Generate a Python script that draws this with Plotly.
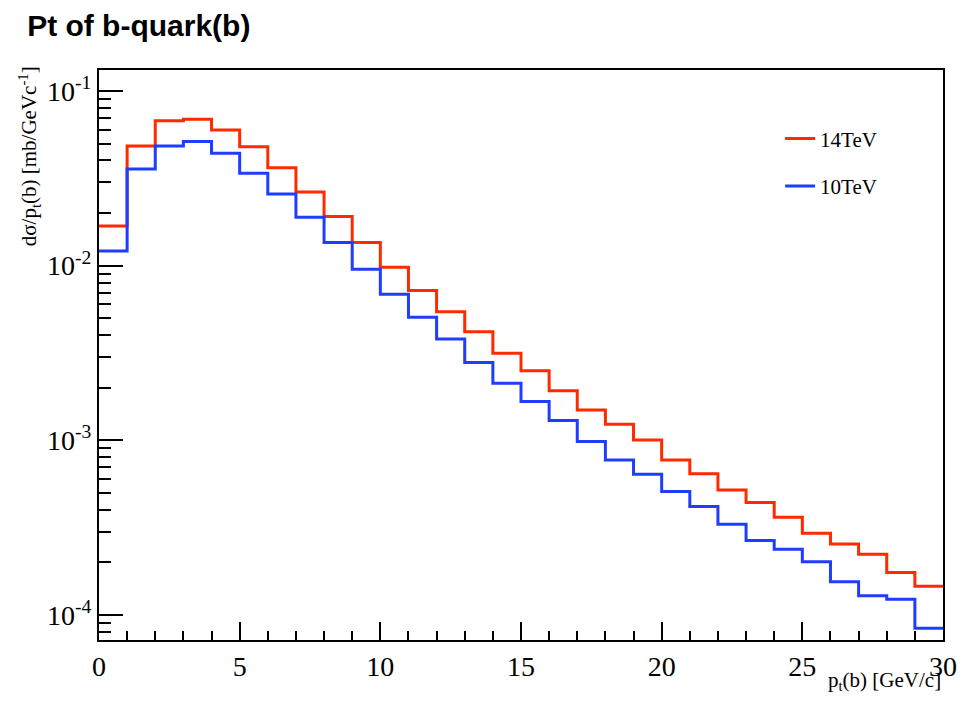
import plotly.graph_objects as go

bin_edges = list(range(0, 31))
sigma_14tev = [0.01687, 0.0484, 0.0676, 0.0689, 0.0598, 0.0480, 0.0364, 0.0264, 0.0191, 0.01356,
               0.0098, 0.0072, 0.00545, 0.00419, 0.00315, 0.00250, 0.00192, 0.00149, 0.001236, 0.001005,
               0.000772, 0.000643, 0.000520, 0.000440, 0.000363, 0.000294, 0.000255, 0.000223, 0.000175, 0.000146]
sigma_10tev = [0.01213, 0.0358, 0.0484, 0.0513, 0.0440, 0.0338, 0.0257, 0.0189, 0.01355, 0.00955,
               0.00686, 0.00507, 0.00380, 0.00279, 0.00212, 0.001666, 0.001297, 0.000984, 0.000772, 0.000640,
               0.000509, 0.000418, 0.000331, 0.000267, 0.000238, 0.000202, 0.000155, 0.000129, 0.000123, 0.0000839]
series_names = ["14TeV", "10TeV"]
series_colors = ["#ff2a00", "#1f3dff"]
x_tick_vals = [0, 5, 10, 15, 20, 25, 30]
y_tick_vals = [1e-1, 1e-2, 1e-3, 1e-4]
y_tick_text = ["10<sup>-1</sup>", "10<sup>-2</sup>", "10<sup>-3</sup>", "10<sup>-4</sup>"]

serif = "Liberation Serif, Times New Roman, serif"

fig = go.Figure()
for name, vals, col in zip(series_names, [sigma_14tev, sigma_10tev], series_colors):
    fig.add_trace(go.Scatter(
        x=bin_edges, y=vals + [vals[-1]], mode="lines", name=name,
        line=dict(color=col, width=3, shape="hv"), legendgroup=name,
    ))

fig.update_layout(
    width=969, height=706,
    margin=dict(l=99, r=22, t=70, b=66),
    plot_bgcolor="white", paper_bgcolor="white",
    showlegend=True,
    legend=dict(x=0.807, y=0.915, xanchor="left", yanchor="top",
                font=dict(family=serif, size=21, color="black"),
                bgcolor="rgba(0,0,0,0)", tracegroupgap=17, itemwidth=30),
    title=dict(text="<b>Pt of b-quark(b)</b>", x=0.028, xanchor="left", y=0.964, yanchor="middle",
               font=dict(family="Liberation Sans, Arial, sans-serif", size=30, color="black")),
)
fig.update_xaxes(
    range=[0, 30], tickvals=x_tick_vals, ticks="inside", ticklen=18, tickwidth=2, tickcolor="black",
    showline=True, linecolor="black", linewidth=2, mirror=True, showgrid=False, zeroline=False,
    tickfont=dict(family=serif, size=28, color="black"),
    minor=dict(dtick=1, ticks="inside", ticklen=9, tickwidth=2, tickcolor="black", showgrid=False),
)
fig.update_yaxes(
    type="log", range=[-4.143, -0.88], tickvals=y_tick_vals, ticktext=y_tick_text,
    ticks="inside", ticklen=24, tickwidth=2, tickcolor="black",
    showline=True, linecolor="black", linewidth=2, mirror=True, showgrid=False, zeroline=False,
    tickfont=dict(family=serif, size=28, color="black"),
    minor=dict(dtick="D1", ticks="inside", ticklen=12, tickwidth=2, tickcolor="black", showgrid=False),
)
fig.add_annotation(text="d\u03c3/p<sub>t</sub>(b) [mb/GeVc<sup>-1</sup>]", xref="paper", yref="paper",
                   x=-0.083, y=1.01, xanchor="center", yanchor="top", textangle=-90, showarrow=False,
                   font=dict(family=serif, size=21, color="black"))
fig.add_annotation(text="p<sub>t</sub>(b) [GeV/c]", xref="paper", yref="paper",
                   x=1.0, y=-0.045, xanchor="right", yanchor="top", showarrow=False,
                   font=dict(family=serif, size=21, color="black"))
fig.write_html("out.html")
